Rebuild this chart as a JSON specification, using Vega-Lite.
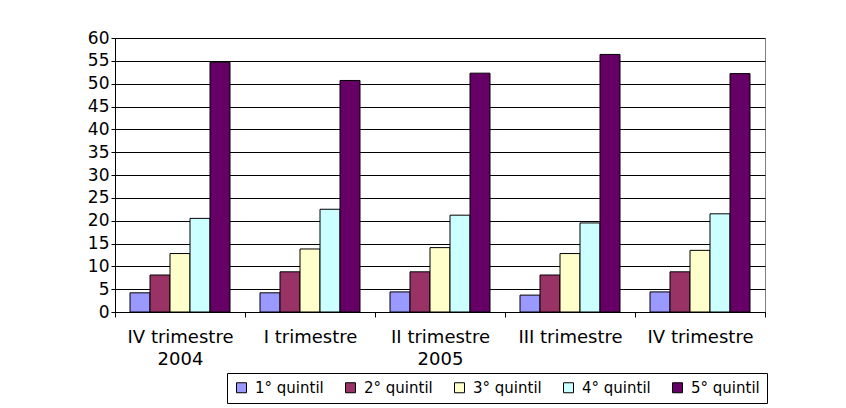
{
  "$schema": "https://vega.github.io/schema/vega-lite/v6.json",
  "width": 650,
  "height": 274,
  "autosize": "none",
  "padding": {"left": 115, "top": 38, "right": 81, "bottom": 96},
  "background": "white",
  "data": {
    "values": [
      {"periodo": "IV trimestre|2004", "quintil": "1° quintil", "valore": 4.2},
      {"periodo": "IV trimestre|2004", "quintil": "2° quintil", "valore": 8.1},
      {"periodo": "IV trimestre|2004", "quintil": "3° quintil", "valore": 12.8},
      {"periodo": "IV trimestre|2004", "quintil": "4° quintil", "valore": 20.5},
      {"periodo": "IV trimestre|2004", "quintil": "5° quintil", "valore": 54.7},
      {"periodo": "I trimestre", "quintil": "1° quintil", "valore": 4.2},
      {"periodo": "I trimestre", "quintil": "2° quintil", "valore": 8.8},
      {"periodo": "I trimestre", "quintil": "3° quintil", "valore": 13.8},
      {"periodo": "I trimestre", "quintil": "4° quintil", "valore": 22.5},
      {"periodo": "I trimestre", "quintil": "5° quintil", "valore": 50.7},
      {"periodo": "II trimestre|2005", "quintil": "1° quintil", "valore": 4.4},
      {"periodo": "II trimestre|2005", "quintil": "2° quintil", "valore": 8.8},
      {"periodo": "II trimestre|2005", "quintil": "3° quintil", "valore": 14.1},
      {"periodo": "II trimestre|2005", "quintil": "4° quintil", "valore": 21.2},
      {"periodo": "II trimestre|2005", "quintil": "5° quintil", "valore": 52.3},
      {"periodo": "III trimestre", "quintil": "1° quintil", "valore": 3.7},
      {"periodo": "III trimestre", "quintil": "2° quintil", "valore": 8.1},
      {"periodo": "III trimestre", "quintil": "3° quintil", "valore": 12.8},
      {"periodo": "III trimestre", "quintil": "4° quintil", "valore": 19.5},
      {"periodo": "III trimestre", "quintil": "5° quintil", "valore": 56.4},
      {"periodo": "IV trimestre", "quintil": "1° quintil", "valore": 4.4},
      {"periodo": "IV trimestre", "quintil": "2° quintil", "valore": 8.8},
      {"periodo": "IV trimestre", "quintil": "3° quintil", "valore": 13.5},
      {"periodo": "IV trimestre", "quintil": "4° quintil", "valore": 21.5},
      {"periodo": "IV trimestre", "quintil": "5° quintil", "valore": 52.2}
    ]
  },
  "mark": {"type": "bar", "stroke": "#000", "strokeWidth": 1},
  "encoding": {
    "x": {
      "field": "periodo",
      "type": "nominal",
      "sort": ["IV trimestre|2004", "I trimestre", "II trimestre|2005", "III trimestre", "IV trimestre"],
      "scale": {"paddingInner": 0, "paddingOuter": 0},
      "axis": {
        "title": null,
        "labelAngle": 0,
        "labelExpr": "isValid(datum.value) ? split(datum.value, '|') : ''",
        "tickBand": "extent",
        "tickSize": 5,
        "labelPadding": 11,
        "labelFontSize": 18,
        "labelLineHeight": 22,
        "labelFont": "DejaVu Sans",
        "labelColor": "#000",
        "domainColor": "#000",
        "tickColor": "#000",
        "grid": false
      }
    },
    "xOffset": {
      "field": "quintil",
      "type": "nominal",
      "scale": {"paddingInner": 0, "paddingOuter": 0.75}
    },
    "y": {
      "field": "valore",
      "type": "quantitative",
      "scale": {"domain": [0, 60], "nice": false},
      "axis": {
        "title": null,
        "values": [0, 5, 10, 15, 20, 25, 30, 35, 40, 45, 50, 55, 60],
        "grid": true,
        "gridColor": "#000",
        "gridWidth": 1,
        "tickSize": 4,
        "labelPadding": 2,
        "labelFontSize": 17,
        "labelFont": "DejaVu Sans",
        "labelColor": "#000",
        "domainColor": "#000",
        "tickColor": "#000"
      }
    },
    "color": {
      "field": "quintil",
      "type": "nominal",
      "scale": {
        "domain": ["1° quintil", "2° quintil", "3° quintil", "4° quintil", "5° quintil"],
        "range": ["#9999FF", "#993366", "#FFFFCC", "#CCFFFF", "#660066"]
      },
      "legend": {
        "title": null,
        "orient": "none",
        "legendX": 112,
        "legendY": 335,
        "direction": "horizontal",
        "columns": 5,
        "strokeColor": "#000",
        "fillColor": "white",
        "padding": 7,
        "symbolType": "square",
        "symbolSize": 100,
        "symbolStrokeColor": "#000",
        "symbolStrokeWidth": 1,
        "symbolOpacity": 1,
        "labelFontSize": 15,
        "labelFont": "DejaVu Sans",
        "labelColor": "#000",
        "labelOffset": 6,
        "columnPadding": 19
      }
    }
  },
  "config": {
    "view": {"stroke": "#808080", "strokeWidth": 1}
  }
}
